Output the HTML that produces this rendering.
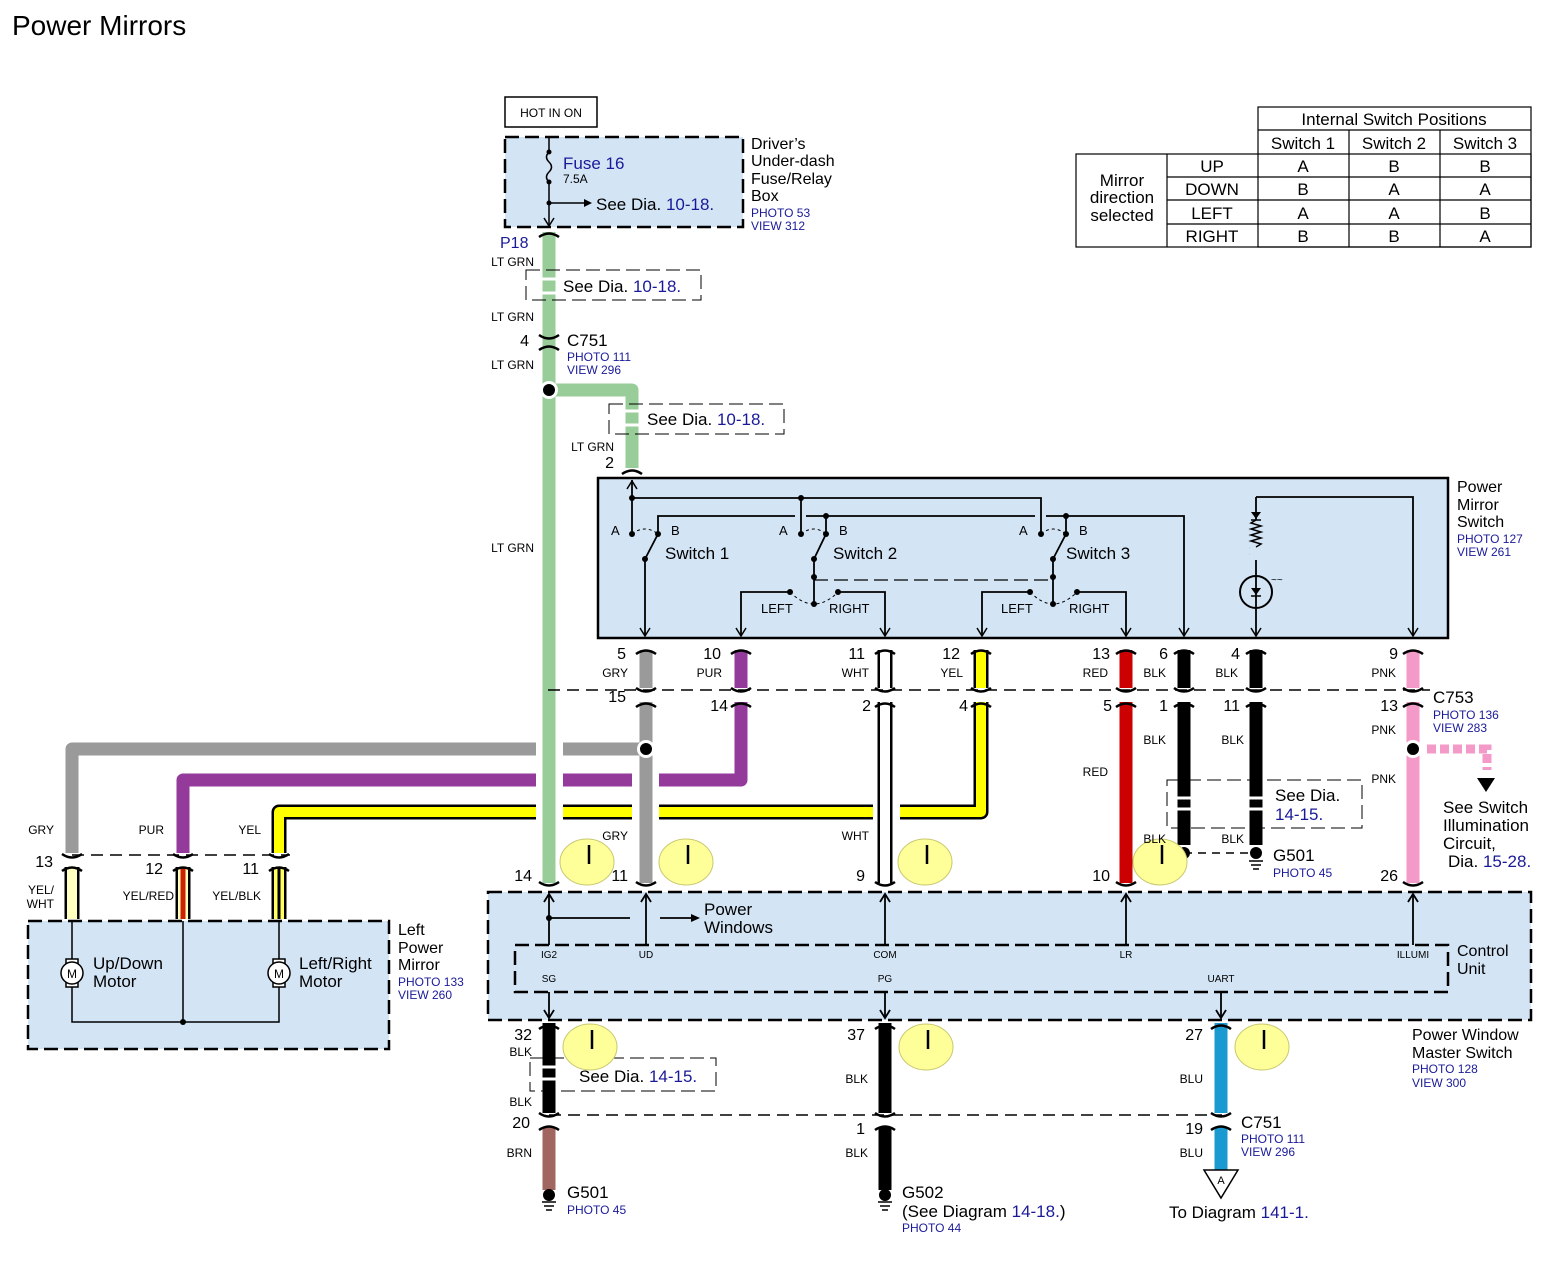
<!DOCTYPE html>
<html><head><meta charset="utf-8"><style>
html,body{margin:0;padding:0;background:#fff;}
svg{display:block;font-family:"Liberation Sans",Arial,sans-serif;}
.b{fill:#1a1a99}
</style></head><body>
<svg width="1551" height="1278" viewBox="0 0 1551 1278" xmlns="http://www.w3.org/2000/svg">
<defs>
<path id="ct" d="M-10,4 Q0,-3 10,4" fill="none" stroke="#000" stroke-width="2.5"/>
<path id="cb" d="M-10,-4 Q0,3 10,-4" fill="none" stroke="#000" stroke-width="2.5"/>
</defs>
<text x="12" y="35" font-size="28">Power Mirrors</text>

<!-- table -->
<g stroke="#000" stroke-width="1.2" fill="none">
<rect x="1258" y="107" width="273" height="140"/>
<rect x="1076" y="154" width="455" height="93"/>
<line x1="1258" y1="130" x2="1531" y2="130"/>
<line x1="1167" y1="154" x2="1167" y2="247"/>
<line x1="1349" y1="130" x2="1349" y2="247"/>
<line x1="1440" y1="130" x2="1440" y2="247"/>
<line x1="1167" y1="177" x2="1531" y2="177"/>
<line x1="1167" y1="200" x2="1531" y2="200"/>
<line x1="1167" y1="224" x2="1531" y2="224"/>
</g>
<g font-size="17" text-anchor="middle">
<text x="1394" y="125">Internal Switch Positions</text>
<text x="1303" y="149">Switch 1</text><text x="1394" y="149">Switch 2</text><text x="1485" y="149">Switch 3</text>
<text x="1212" y="172">UP</text><text x="1303" y="172">A</text><text x="1394" y="172">B</text><text x="1485" y="172">B</text>
<text x="1212" y="195">DOWN</text><text x="1303" y="195">B</text><text x="1394" y="195">A</text><text x="1485" y="195">A</text>
<text x="1212" y="219">LEFT</text><text x="1303" y="219">A</text><text x="1394" y="219">A</text><text x="1485" y="219">B</text>
<text x="1212" y="242">RIGHT</text><text x="1303" y="242">B</text><text x="1394" y="242">B</text><text x="1485" y="242">A</text>
<text x="1122" y="186">Mirror</text><text x="1122" y="203">direction</text><text x="1122" y="221">selected</text>
</g>

<!-- boxes -->
<rect x="505" y="97" width="92" height="30" fill="#fff" stroke="#000" stroke-width="1.5"/>
<text x="551" y="117" font-size="12" text-anchor="middle">HOT IN ON</text>
<rect x="505" y="137" width="238" height="90" fill="#d3e4f5" stroke="#000" stroke-width="2.5" stroke-dasharray="14,6"/>
<rect x="598" y="478" width="850" height="160" fill="#d3e4f5" stroke="#000" stroke-width="2.5"/>
<rect x="488" y="892" width="1043" height="128" fill="#d3e4f5" stroke="#000" stroke-width="2.5" stroke-dasharray="14,6"/>
<rect x="515" y="945" width="933" height="47" fill="none" stroke="#000" stroke-width="2.5" stroke-dasharray="14,6"/>
<rect x="28" y="921" width="361" height="128" fill="#d3e4f5" stroke="#000" stroke-width="2.5" stroke-dasharray="14,6"/>

<!-- fuse internals -->
<g stroke="#000" stroke-width="1.5" fill="none">
<line x1="549" y1="137" x2="549" y2="152"/>
<path d="M549,152 q-5,5 0,10 q5,5 0,10 q-5,5 0,10"/>
<line x1="549" y1="182" x2="549" y2="225"/>
<line x1="549" y1="203" x2="585" y2="203"/>
</g>
<path d="M584,199 L592,203 L584,207Z"/>
<path d="M544,218 L549,226 L554,218" fill="none" stroke="#000" stroke-width="1.5"/>
<circle cx="549" cy="152" r="2.5"/><circle cx="549" cy="182" r="2.5"/><circle cx="549" cy="203" r="2.5"/>
<text x="563" y="169" font-size="17" class="b">Fuse 16</text>
<text x="563" y="183" font-size="12">7.5A</text>
<text x="596" y="210" font-size="17">See  Dia. <tspan class="b">10-18.</tspan></text>
<g font-size="16"><text x="751" y="149">Driver’s</text><text x="751" y="166">Under-dash</text><text x="751" y="184">Fuse/Relay</text><text x="751" y="201">Box</text></g>
<g font-size="12" class="b"><text x="751" y="217">PHOTO 53</text><text x="751" y="230">VIEW 312</text></g>

<!-- LT GRN -->
<g stroke="#98cc98" stroke-width="13" fill="none">
<line x1="549" y1="232" x2="549" y2="883"/>
<path d="M549,390 H632 V468" stroke-linejoin="round"/>
</g>
<g stroke="#fff" stroke-width="3"><line x1="540" y1="279" x2="558" y2="279"/><line x1="540" y1="293" x2="558" y2="293"/>
<line x1="623" y1="411" x2="641" y2="411"/><line x1="623" y1="425" x2="641" y2="425"/></g>
<g fill="none" stroke="#000" stroke-width="1" stroke-dasharray="14,6">
<rect x="526" y="270" width="175" height="30"/><rect x="609" y="404" width="175" height="30"/>
</g>
<rect x="556" y="272" width="10" height="26" fill="#fff"/><rect x="640" y="406" width="4" height="26" fill="#fff"/>
<text x="563" y="292" font-size="17">See  Dia.  <tspan class="b">10-18.</tspan></text>
<text x="647" y="425" font-size="17">See  Dia.  <tspan class="b">10-18.</tspan></text>
<use href="#ct" x="549" y="233"/>
<use href="#cb" x="549" y="339"/><use href="#ct" x="549" y="346"/>
<use href="#ct" x="632" y="470"/>
<circle cx="549" cy="390" r="9" fill="#fff"/><circle cx="549" cy="390" r="6"/>
<text x="500" y="248" font-size="16" class="b">P18</text>
<g font-size="12" text-anchor="end"><text x="534" y="266">LT GRN</text><text x="534" y="321">LT GRN</text><text x="534" y="369">LT GRN</text><text x="534" y="552">LT GRN</text><text x="614" y="451">LT GRN</text></g>
<text x="529" y="346" font-size="16" text-anchor="end">4</text>
<text x="614" y="468" font-size="16" text-anchor="end">2</text>
<text x="567" y="346" font-size="17">C751</text>
<g font-size="12" class="b"><text x="567" y="361">PHOTO 111</text><text x="567" y="374">VIEW 296</text></g>

<!-- switch internals -->
<g stroke="#000" stroke-width="1.8" fill="none">
<line x1="632" y1="480" x2="632" y2="534"/>
<path d="M632,498 H1041 V534"/>
<line x1="801" y1="498" x2="801" y2="534"/>
<path d="M658,534 V516 H795 M806,516 H1035 M1046,516 H1184 V636"/>
<line x1="826" y1="516" x2="826" y2="534"/>
<line x1="1066" y1="516" x2="1066" y2="534"/>
<path d="M645,559 L658,534 M645,559 V636"/>
<path d="M814,559 L826,534 M814,559 V604"/>
<path d="M1053,559 L1066,534 M1053,559 V604"/>
<path d="M790,592 H741 V636 M838,592 H885 V636"/>
<path d="M1030,592 H982 V636 M1077,592 H1126 V636"/>
<path d="M1256,497 H1413 V636 M1256,497 V636"/>
</g>
<g stroke="#000" stroke-width="1" fill="none" stroke-dasharray="3,3">
<path d="M632,534 Q645,524 658,534"/><path d="M801,534 Q814,524 826,534"/><path d="M1041,534 Q1053,524 1066,534"/>
<path d="M790,592 Q802,604 814,604 Q826,604 838,592"/><path d="M1030,592 Q1042,604 1053,604 Q1065,604 1077,592"/>
</g>
<path d="M814,580 H1053" stroke="#000" stroke-width="1.2" stroke-dasharray="14,6"/>
<g>
<circle cx="632" cy="498" r="3"/><circle cx="801" cy="498" r="3"/><circle cx="826" cy="516" r="3"/><circle cx="1066" cy="516" r="3"/>
<circle cx="632" cy="534" r="3"/><circle cx="658" cy="534" r="3"/><circle cx="645" cy="559" r="3"/>
<circle cx="801" cy="534" r="3"/><circle cx="826" cy="534" r="3"/><circle cx="814" cy="559" r="3"/><circle cx="814" cy="577" r="3"/>
<circle cx="1041" cy="534" r="3"/><circle cx="1066" cy="534" r="3"/><circle cx="1053" cy="559" r="3"/><circle cx="1053" cy="577" r="3"/>
<circle cx="790" cy="592" r="3"/><circle cx="838" cy="592" r="3"/><circle cx="814" cy="604" r="3"/>
<circle cx="1030" cy="592" r="3"/><circle cx="1077" cy="592" r="3"/><circle cx="1053" cy="604" r="3"/>
</g>
<g stroke="#000" stroke-width="1.5" fill="none">
<path d="M627,489 L632,481 L637,489"/>
<path d="M640,628 L645,636 L650,628 M736,628 L741,636 L746,628 M880,628 L885,636 L890,628 M977,628 L982,636 L987,628 M1121,628 L1126,636 L1131,628 M1179,628 L1184,636 L1189,628 M1251,628 L1256,636 L1261,628 M1408,628 L1413,636 L1418,628"/>
<path d="M1256,527 l-5,3 l5,3 l-5,3 l5,3 l-5,3 l5,3 l-5,3 l5,3 l-5,3 l5,3"/>
</g>
<rect x="1250" y="520" width="12" height="40" fill="#d3e4f5"/>
<path d="M1256,520 l-5,3 l10,3 l-10,3 l10,3 l-10,3 l10,3 l-10,3 l10,3 l-5,3" fill="none" stroke="#000" stroke-width="1.5"/>
<path d="M1251,512 H1261 L1256,519Z"/><line x1="1251" y1="520" x2="1261" y2="520" stroke="#000" stroke-width="1.5"/>
<circle cx="1256" cy="592" r="16" fill="none" stroke="#000" stroke-width="2"/>
<path d="M1251,588 H1261 L1256,595Z"/><line x1="1251" y1="596" x2="1261" y2="596" stroke="#000" stroke-width="1.5"/>
<text x="1271" y="583" font-size="10">~~</text>
<g font-size="13"><text x="611" y="535">A</text><text x="671" y="535">B</text><text x="779" y="535">A</text><text x="839" y="535">B</text><text x="1019" y="535">A</text><text x="1079" y="535">B</text>
<text x="761" y="613">LEFT</text><text x="829" y="613">RIGHT</text><text x="1001" y="613">LEFT</text><text x="1069" y="613">RIGHT</text></g>
<g font-size="17"><text x="665" y="559">Switch 1</text><text x="833" y="559">Switch 2</text><text x="1066" y="559">Switch 3</text></g>
<g font-size="16"><text x="1457" y="492">Power</text><text x="1457" y="510">Mirror</text><text x="1457" y="527">Switch</text></g>
<g font-size="12" class="b"><text x="1457" y="543">PHOTO 127</text><text x="1457" y="556">VIEW 261</text></g>

<!-- dashed connector line C753 -->
<path d="M548,690 H1430" stroke="#000" stroke-width="1.5" stroke-dasharray="12,7"/>
<path d="M72,855 H290" stroke="#000" stroke-width="1.5" stroke-dasharray="12,7"/>
<path d="M549,1115 H1222" stroke="#000" stroke-width="1.5" stroke-dasharray="12,7"/>
<path d="M1184,853 H1256" stroke="#000" stroke-width="1.5" stroke-dasharray="8,6"/>

<!-- wires -->
<g fill="none" stroke-width="13" stroke-linejoin="round">
<path d="M646,650 V688 M646,702 V883" stroke="#9a9a9a"/>
<path d="M646,749 H563 M536,749 H72 V853" stroke="#9a9a9a"/>
<path d="M741,650 V688 M741,702 V780 H659 M632,780 H563 M536,780 H183 V853" stroke="#943a9b"/>
<path d="M1126,650 V688 M1126,702 V883" stroke="#cc0000"/>
<path d="M1184,650 V688 M1184,702 V845" stroke="#000"/>
<path d="M1256,650 V688 M1256,702 V845" stroke="#000"/>
<path d="M1413,650 V688 M1413,702 V883" stroke="#f49ac8"/>
<path d="M549,1023 V1113 M885,1023 V1113 M885,1127 V1190" stroke="#000"/>
<path d="M549,1127 V1190" stroke="#a0665f"/>
<path d="M1221,1023 V1113 M1221,1127 V1170" stroke="#1a9ad0"/>
</g>
<!-- outlined wires -->
<g fill="none" stroke-linejoin="round">
<path d="M885,650 V688 M885,702 V883" stroke="#000" stroke-width="15"/>
<path d="M885,650 V688 M885,702 V883" stroke="#fff" stroke-width="10"/>
<path d="M981,650 V688 M981,702 V812 H900 M873,812 H659 M632,812 H563 M536,812 H279 V853" stroke="#000" stroke-width="15"/>
<path d="M981,650 V688 M981,702 V812 H900 M873,812 H659 M632,812 H563 M536,812 H279 V853" stroke="#ffff00" stroke-width="10"/>
<path d="M72,867 V919" stroke="#000" stroke-width="15"/><path d="M72,867 V919" stroke="#ffffc0" stroke-width="10"/>
<path d="M183,867 V919" stroke="#000" stroke-width="15"/><path d="M183,867 V919" stroke="#ffffc0" stroke-width="10"/><path d="M183,867 V919" stroke="#cc2200" stroke-width="5"/>
<path d="M279,867 V919" stroke="#000" stroke-width="15"/><path d="M279,867 V919" stroke="#ffff60" stroke-width="10"/><path d="M279,867 V919" stroke="#000" stroke-width="3"/>
</g>
<g stroke="#fff" stroke-width="3"><line x1="1175" y1="798" x2="1193" y2="798"/><line x1="1175" y1="809" x2="1193" y2="809"/><line x1="1247" y1="798" x2="1265" y2="798"/><line x1="1247" y1="809" x2="1265" y2="809"/>
<line x1="540" y1="1067" x2="558" y2="1067"/><line x1="540" y1="1079" x2="558" y2="1079"/></g>
<path d="M1427,749 H1487 V770" fill="none" stroke="#f49ac8" stroke-width="9" stroke-dasharray="9,4"/>
<path d="M1477,778 H1495 L1486,792Z"/>
<circle cx="646" cy="749" r="9" fill="#fff"/><circle cx="646" cy="749" r="6"/>
<circle cx="1413" cy="749" r="9" fill="#fff"/><circle cx="1413" cy="749" r="6"/>
<circle cx="1184" cy="853" r="6"/><circle cx="1256" cy="853" r="6"/>
<g stroke="#000" stroke-width="1.5"><line x1="1249" y1="861" x2="1263" y2="861"/><line x1="1251" y1="865" x2="1261" y2="865"/><line x1="1253" y1="869" x2="1259" y2="869"/>
<line x1="542" y1="1202" x2="556" y2="1202"/><line x1="544" y1="1206" x2="554" y2="1206"/><line x1="546" y1="1210" x2="552" y2="1210"/>
<line x1="878" y1="1202" x2="892" y2="1202"/><line x1="880" y1="1206" x2="890" y2="1206"/><line x1="882" y1="1210" x2="888" y2="1210"/></g>
<circle cx="549" cy="1195" r="6"/><circle cx="885" cy="1195" r="6"/>
<path d="M1204,1170 H1238 L1221,1198Z" fill="#fff" stroke="#000" stroke-width="1.5"/>
<text x="1221" y="1184" font-size="11" text-anchor="middle">A</text>

<!-- connector symbols -->
<g>
<use href="#ct" x="646" y="650"/><use href="#ct" x="741" y="650"/><use href="#ct" x="885" y="650"/><use href="#ct" x="981" y="650"/><use href="#ct" x="1126" y="650"/><use href="#ct" x="1184" y="650"/><use href="#ct" x="1256" y="650"/><use href="#ct" x="1413" y="650"/>
<use href="#cb" x="646" y="692"/><use href="#cb" x="741" y="692"/><use href="#cb" x="885" y="692"/><use href="#cb" x="981" y="692"/><use href="#cb" x="1126" y="692"/><use href="#cb" x="1184" y="692"/><use href="#cb" x="1256" y="692"/><use href="#cb" x="1413" y="692"/>
<use href="#ct" x="646" y="703"/><use href="#ct" x="741" y="703"/><use href="#ct" x="885" y="703"/><use href="#ct" x="981" y="703"/><use href="#ct" x="1126" y="703"/><use href="#ct" x="1184" y="703"/><use href="#ct" x="1256" y="703"/><use href="#ct" x="1413" y="703"/>
<use href="#cb" x="549" y="886"/><use href="#cb" x="646" y="886"/><use href="#cb" x="885" y="886"/><use href="#cb" x="1126" y="886"/><use href="#cb" x="1413" y="886"/>
<use href="#cb" x="72" y="858"/><use href="#cb" x="183" y="858"/><use href="#cb" x="279" y="858"/>
<use href="#ct" x="72" y="867"/><use href="#ct" x="183" y="867"/><use href="#ct" x="279" y="867"/>
<use href="#ct" x="549" y="1025"/><use href="#ct" x="885" y="1025"/><use href="#ct" x="1221" y="1025"/>
<use href="#cb" x="549" y="1117"/><use href="#cb" x="885" y="1117"/><use href="#cb" x="1221" y="1117"/>
<use href="#ct" x="549" y="1126"/><use href="#ct" x="885" y="1126"/><use href="#ct" x="1221" y="1126"/>
</g>

<!-- see dia boxes -->
<g fill="none" stroke="#000" stroke-width="1" stroke-dasharray="14,6">
<rect x="1167" y="780" width="195" height="48"/><rect x="530" y="1058" width="186" height="33"/>
</g>
<text x="1275" y="801" font-size="17">See  Dia.</text><text x="1275" y="820" font-size="17" class="b">14-15.</text>
<text x="579" y="1082" font-size="17">See  Dia.  <tspan class="b">14-15.</tspan></text>

<!-- yellow circles -->
<g fill="#ffff99" stroke="#c8c870" stroke-width="1">
<ellipse cx="587" cy="862" rx="27" ry="23"/><ellipse cx="686" cy="862" rx="27" ry="23"/><ellipse cx="925" cy="862" rx="27" ry="23"/><ellipse cx="1160" cy="862" rx="27" ry="23"/>
<ellipse cx="590" cy="1047" rx="27" ry="23"/><ellipse cx="926" cy="1047" rx="27" ry="23"/><ellipse cx="1262" cy="1047" rx="27" ry="23"/>
</g>
<g stroke="#000" stroke-width="2.5">
<line x1="589" y1="845" x2="589" y2="864"/><line x1="688" y1="845" x2="688" y2="864"/><line x1="927" y1="845" x2="927" y2="864"/><line x1="1162" y1="845" x2="1162" y2="864"/>
<line x1="592" y1="1030" x2="592" y2="1049"/><line x1="928" y1="1030" x2="928" y2="1049"/><line x1="1264" y1="1030" x2="1264" y2="1049"/>
</g>

<!-- pin numbers / labels -->
<g font-size="16" text-anchor="end">
<text x="626" y="659">5</text><text x="721" y="659">10</text><text x="865" y="659">11</text><text x="960" y="659">12</text><text x="1110" y="659">13</text><text x="1168" y="659">6</text><text x="1240" y="659">4</text><text x="1398" y="659">9</text>
<text x="626" y="702">15</text><text x="728" y="711">14</text><text x="871" y="711">2</text><text x="968" y="711">4</text><text x="1112" y="711">5</text><text x="1168" y="711">1</text><text x="1240" y="711">11</text><text x="1398" y="711">13</text>
<text x="532" y="881">14</text><text x="628" y="881">11</text><text x="865" y="881">9</text><text x="1110" y="881">10</text><text x="1398" y="881">26</text>
<text x="53" y="867">13</text><text x="163" y="874">12</text><text x="259" y="874">11</text>
<text x="532" y="1040">32</text><text x="865" y="1040">37</text><text x="1203" y="1040">27</text>
<text x="530" y="1128">20</text><text x="865" y="1134">1</text><text x="1203" y="1134">19</text>
</g>
<g font-size="12" text-anchor="end">
<text x="628" y="677">GRY</text><text x="722" y="677">PUR</text><text x="869" y="677">WHT</text><text x="963" y="677">YEL</text><text x="1108" y="677">RED</text><text x="1166" y="677">BLK</text><text x="1238" y="677">BLK</text><text x="1396" y="677">PNK</text>
<text x="1166" y="744">BLK</text><text x="1244" y="744">BLK</text><text x="1396" y="734">PNK</text><text x="1108" y="776">RED</text><text x="1396" y="783">PNK</text>
<text x="1166" y="843">BLK</text><text x="1244" y="843">BLK</text>
<text x="628" y="840">GRY</text><text x="869" y="840">WHT</text>
<text x="54" y="834">GRY</text><text x="164" y="834">PUR</text><text x="261" y="834">YEL</text>
<text x="54" y="894">YEL/</text><text x="54" y="908">WHT</text><text x="174" y="900">YEL/RED</text><text x="261" y="900">YEL/BLK</text>
<text x="532" y="1056">BLK</text><text x="532" y="1106">BLK</text><text x="532" y="1157">BRN</text>
<text x="868" y="1083">BLK</text><text x="868" y="1157">BLK</text><text x="1203" y="1083">BLU</text><text x="1203" y="1157">BLU</text>
</g>
<text x="1433" y="703" font-size="17">C753</text>
<g font-size="12" class="b"><text x="1433" y="719">PHOTO 136</text><text x="1433" y="732">VIEW 283</text></g>
<g font-size="17"><text x="1443" y="813">See Switch</text><text x="1443" y="831">Illumination</text><text x="1443" y="849">Circuit,</text><text x="1448" y="867">Dia.  <tspan class="b">15-28.</tspan></text></g>
<text x="1273" y="861" font-size="17">G501</text><text x="1273" y="877" font-size="12" class="b">PHOTO 45</text>

<!-- master switch internals -->
<g stroke="#000" stroke-width="1.8" fill="none">
<path d="M549,945 V894 M646,945 V894 M885,945 V894 M1126,945 V894 M1413,945 V894"/>
<path d="M549,918 H630 M660,918 H693"/>
<path d="M549,992 V1018 M885,992 V1018 M1221,992 V1018"/>
<path d="M544,902 L549,894 L554,902 M641,902 L646,894 L651,902 M880,902 L885,894 L890,902 M1121,902 L1126,894 L1131,902 M1408,902 L1413,894 L1418,902"/>
<path d="M544,1010 L549,1018 L554,1010 M880,1010 L885,1018 L890,1010 M1216,1010 L1221,1018 L1226,1010"/>
</g>
<circle cx="549" cy="918" r="3"/>
<path d="M691,914 L700,918 L691,922Z"/>
<g font-size="17"><text x="704" y="915">Power</text><text x="704" y="933">Windows</text></g>
<g font-size="10" text-anchor="middle"><text x="549" y="958">IG2</text><text x="646" y="958">UD</text><text x="885" y="958">COM</text><text x="1126" y="958">LR</text><text x="1413" y="958">ILLUMI</text>
<text x="549" y="982">SG</text><text x="885" y="982">PG</text><text x="1221" y="982">UART</text></g>
<g font-size="16"><text x="1457" y="956">Control</text><text x="1457" y="974">Unit</text>
<text x="1412" y="1040">Power Window</text><text x="1412" y="1058">Master Switch</text></g>
<g font-size="12" class="b"><text x="1412" y="1073">PHOTO 128</text><text x="1412" y="1087">VIEW 300</text></g>

<!-- bottom labels -->
<text x="567" y="1198" font-size="17">G501</text><text x="567" y="1214" font-size="12" class="b">PHOTO 45</text>
<text x="902" y="1198" font-size="17">G502</text><text x="902" y="1217" font-size="17">(See  Diagram  <tspan class="b">14-18.</tspan>)</text><text x="902" y="1232" font-size="12" class="b">PHOTO 44</text>
<text x="1241" y="1128" font-size="17">C751</text>
<g font-size="12" class="b"><text x="1241" y="1143">PHOTO 111</text><text x="1241" y="1156">VIEW 296</text></g>
<text x="1169" y="1218" font-size="17">To  Diagram  <tspan class="b">141-1.</tspan></text>

<!-- left mirror internals -->
<g stroke="#000" stroke-width="1.5" fill="none">
<path d="M72,921 V1022 H279 V921 M183,921 V1022"/>
</g>
<circle cx="183" cy="1022" r="3"/>
<g fill="#fff" stroke="#000" stroke-width="1.5">
<rect x="66" y="959" width="12" height="28"/><circle cx="72" cy="973" r="11"/>
<rect x="273" y="959" width="12" height="28"/><circle cx="279" cy="973" r="11"/>
</g>
<text x="72" y="978" font-size="12" text-anchor="middle">M</text><text x="279" y="978" font-size="12" text-anchor="middle">M</text>
<g font-size="17"><text x="93" y="969">Up/Down</text><text x="93" y="987">Motor</text><text x="299" y="969">Left/Right</text><text x="299" y="987">Motor</text></g>
<g font-size="16"><text x="398" y="935">Left</text><text x="398" y="953">Power</text><text x="398" y="970">Mirror</text></g>
<g font-size="12" class="b"><text x="398" y="986">PHOTO 133</text><text x="398" y="999">VIEW 260</text></g>
</svg>
</body></html>
